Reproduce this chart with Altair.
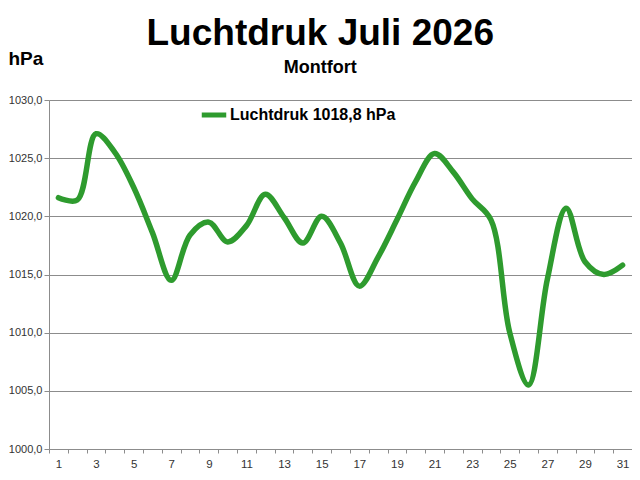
import altair as alt
import pandas as pd

days = list(range(1, 32))
pressure = [1021.6, 1021.4, 1027.1, 1025.5, 1022.5, 1018.6, 1014.5, 1018.4, 1019.5, 1017.8,
            1019.2, 1021.9, 1019.9, 1017.7, 1020.0, 1017.7, 1014.0, 1016.5, 1019.7, 1023.0,
            1025.4, 1023.8, 1021.5, 1019.7, 1010.0, 1005.5, 1014.6, 1020.7, 1016.1, 1015.0,
            1015.8]
series_name = "Luchtdruk 1018,8 hPa"
y_ticks = [1000, 1005, 1010, 1015, 1020, 1025, 1030]

df = pd.DataFrame({"day": days, "hPa": pressure, "series": [series_name] * len(days)})

FONT = "Liberation Sans"

chart = alt.Chart(df).mark_line(
    interpolate="catmull-rom", strokeWidth=5.5, strokeCap="round", strokeJoin="round"
).encode(
    x=alt.X(
        "day:O",
        scale=alt.Scale(type="band", paddingInner=0, paddingOuter=0),
        bandPosition=0.5,
        axis=alt.Axis(
            title=None, tickBand="extent", labelAngle=0, grid=False,
            labelExpr="datum.value % 2 == 1 ? datum.label : ''",
            tickSize=4, tickColor="#8c8c8c", domainColor="#8c8c8c",
            labelFontSize=11.5, labelColor="#333333", labelPadding=5, labelFont=FONT,
        ),
    ),
    y=alt.Y(
        "hPa:Q",
        scale=alt.Scale(domain=[1000, 1030], nice=False, zero=False),
        axis=alt.Axis(
            values=y_ticks, title="hPa", titleAngle=0, titleX=-41, titleY=-42,
            titleAlign="left", titleBaseline="middle", titleFontSize=19,
            titleFontWeight="bold", titleColor="black", titleFont=FONT,
            labelExpr="replace(format(datum.value, '.1f'), '.', ',')",
            grid=True, gridColor="#8c8c8c", domainColor="#8c8c8c",
            tickColor="#8c8c8c", tickSize=5, labelPadding=2,
            labelFontSize=11, labelColor="#333333", labelFont=FONT,
        ),
    ),
    color=alt.Color(
        "series:N",
        scale=alt.Scale(range=["#2e9b2e"]),
        legend=alt.Legend(
            title=None, orient="none", legendX=150, legendY=0,
            symbolType="stroke", symbolSize=600, symbolStrokeWidth=5,
            labelFontSize=16, labelFontWeight="bold", labelColor="black",
            labelFont=FONT, labelOffset=1, labelLimit=400,
        ),
    ),
).properties(
    width=583,
    height=349,
    title=alt.TitleParams(
        "Luchtdruk Juli 2026", subtitle="Montfort", anchor="middle", frame="bounds",
        fontSize=37, fontWeight="bold", color="black", font=FONT,
        subtitleFontSize=18, subtitleFontWeight="bold", subtitleColor="black",
        subtitleFont=FONT, subtitlePadding=6, offset=-29,
    ),
    autosize=alt.AutoSizeParams(type="none"),
    padding={"left": 41, "top": 92, "right": 0, "bottom": 22},
).configure_view(
    stroke="#a8a8a8", strokeWidth=1.5
).configure(
    font=FONT
)

chart.save("out.html", embed_options={"renderer": "svg", "actions": False})
